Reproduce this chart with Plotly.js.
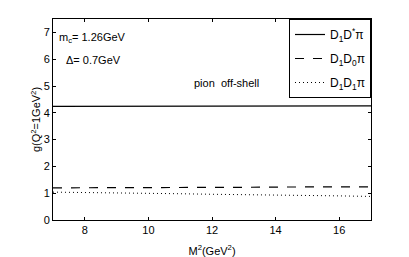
<!DOCTYPE html>
<html>
<head>
<meta charset="utf-8">
<script src="https://cdn.plot.ly/plotly-3.0.1.min.js"></script>
<style>html,body{margin:0;padding:0;background:#fff}#chart{width:409px;height:257px}</style>
</head>
<body>
<div id="chart"></div>
<script>
const M2 = [7, 8, 9, 10, 11, 12, 13, 14, 15, 16, 17];
const gD1Dstar = [4.24, 4.24, 4.24, 4.25, 4.25, 4.25, 4.25, 4.25, 4.26, 4.26, 4.26];
const gD1D0 = [1.20, 1.20, 1.21, 1.21, 1.22, 1.22, 1.22, 1.23, 1.23, 1.24, 1.24];
const gD1D1 = [1.04, 1.03, 1.01, 1.00, 0.98, 0.96, 0.95, 0.93, 0.91, 0.90, 0.88];
const seriesNames = ['D<sub>1</sub>D<sup>*</sup>π', 'D<sub>1</sub>D<sub>0</sub>π', 'D<sub>1</sub>D<sub>1</sub>π'];
const xTicks = [8, 10, 12, 14, 16];
const yTicks = [0, 1, 2, 3, 4, 5, 6, 7];

const font = {family: 'Liberation Sans, Arial, sans-serif', size: 11, color: '#000'};
const legFont = {family: 'Liberation Sans, Arial, sans-serif', size: 12, color: '#000'};
const traces = [
  {x: M2, y: gD1Dstar, name: seriesNames[0], legendgroup: 'a', mode: 'lines', line: {color: '#000', width: 1.2, dash: 'solid'}},
  {x: M2, y: gD1D0, name: seriesNames[1], legendgroup: 'b', mode: 'lines', line: {color: '#000', width: 1.2, dash: 'dash'}},
  {x: M2, y: gD1D1, name: seriesNames[2], legendgroup: 'c', mode: 'lines', line: {color: '#000', width: 1, dash: '1px,3px'}}
];
const axisCommon = {showline: true, mirror: 'ticks', linecolor: '#000', linewidth: 1, ticks: 'inside', ticklen: 3, tickcolor: '#000', showgrid: false, zeroline: false, tickfont: font};
const layout = {
  width: 409, height: 257,
  margin: {l: 53, r: 38, t: 19, b: 37},
  paper_bgcolor: '#fff', plot_bgcolor: '#fff',
  font: font,
  showlegend: true,
  legend: {x: 1, y: 1, xanchor: 'right', yanchor: 'top', bordercolor: '#000', borderwidth: 1, bgcolor: '#fff', font: legFont, tracegroupgap: 5, traceorder: 'grouped'},
  xaxis: Object.assign({}, axisCommon, {range: [7, 17], tickvals: xTicks, title: {text: 'M<sup>2</sup>(GeV<sup>2</sup>)', font: font}}),
  yaxis: Object.assign({}, axisCommon, {range: [0, 7.5], tickvals: yTicks, automargin: true, title: {text: 'g(Q<sup>2</sup>=1GeV<sup>2</sup>)', font: font, standoff: 0}}),
  annotations: [
    {xref: 'paper', yref: 'paper', x: 0.012, y: 0.905, xanchor: 'left', yanchor: 'middle', text: 'm<sub>c</sub>= 1.26GeV', showarrow: false, font: font},
    {xref: 'paper', yref: 'paper', x: 0.035, y: 0.795, xanchor: 'left', yanchor: 'middle', text: 'Δ= 0.7GeV', showarrow: false, font: font},
    {xref: 'paper', yref: 'paper', x: 0.545, y: 0.68, xanchor: 'center', yanchor: 'middle', text: 'pion  off-shell', showarrow: false, font: font}
  ]
};
Plotly.newPlot('chart', traces, layout, {displayModeBar: false, staticPlot: true});
</script>
</body>
</html>
